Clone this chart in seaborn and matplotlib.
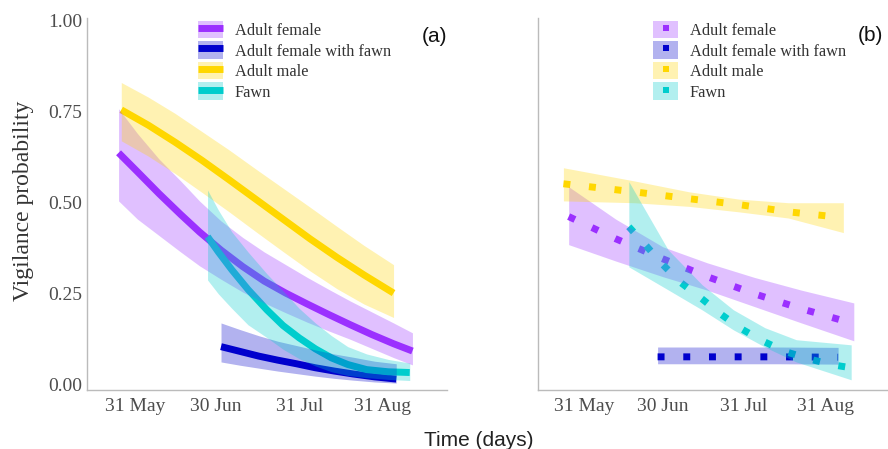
import matplotlib
matplotlib.use("Agg")
import matplotlib.pyplot as plt
import seaborn as sns
from matplotlib.patches import Patch
from matplotlib.lines import Line2D
from matplotlib.legend_handler import HandlerTuple

# ---------------------------
# DATA (day of year)
# ---------------------------
groups = ["Adult female", "Adult female with fawn", "Adult male", "Fawn"]
colors = ["#9B30FF", "#0000CD", "#FFD700", "#00CDCD"]

tick_days = [151, 181, 212, 243]
tick_labels = ["31 May", "30 Jun", "31 Jul", "31 Aug"]
y_ticks = [0.00, 0.25, 0.50, 0.75, 1.00]

# panel (a)
female_a_day = [145, 152, 160, 168, 175, 183, 191, 199, 207, 215, 223, 231, 239, 247, 254]
female_a_fit = [0.637, 0.585, 0.525, 0.468, 0.42, 0.37, 0.325, 0.285, 0.252, 0.222,
                0.193, 0.165, 0.138, 0.113, 0.093]
female_a_lo = [0.505, 0.455, 0.41, 0.365, 0.327, 0.29, 0.255, 0.225, 0.198, 0.172,
               0.148, 0.125, 0.10, 0.075, 0.055]
female_a_hi = [0.758, 0.69, 0.62, 0.56, 0.505, 0.45, 0.405, 0.365, 0.33, 0.295,
               0.262, 0.23, 0.20, 0.17, 0.143]

fawnmum_a_day = [183, 190, 197, 204, 211, 218, 225, 232, 240, 248]
fawnmum_a_fit = [0.105, 0.092, 0.079, 0.068, 0.058, 0.047, 0.038, 0.030, 0.022, 0.016]
fawnmum_a_lo = [0.063, 0.054, 0.046, 0.038, 0.031, 0.024, 0.018, 0.013, 0.008, 0.005]
fawnmum_a_hi = [0.17, 0.152, 0.135, 0.12, 0.108, 0.096, 0.085, 0.076, 0.065, 0.058]

male_a_day = [146, 156, 166, 176, 186, 196, 206, 216, 226, 236, 247]
male_a_fit = [0.755, 0.713, 0.666, 0.616, 0.563, 0.509, 0.455, 0.401, 0.35, 0.302, 0.252]
male_a_lo = [0.67, 0.628, 0.58, 0.528, 0.475, 0.42, 0.366, 0.313, 0.264, 0.222, 0.185]
male_a_hi = [0.83, 0.79, 0.745, 0.695, 0.645, 0.592, 0.54, 0.488, 0.435, 0.383, 0.33]

fawn_a_day = [178, 182, 187, 193, 200, 206, 212, 218, 224, 230, 237, 245, 253]
fawn_a_fit = [0.407, 0.365, 0.316, 0.262, 0.206, 0.163, 0.129, 0.099, 0.074, 0.056,
              0.042, 0.036, 0.034]
fawn_a_lo = [0.288, 0.25, 0.21, 0.165, 0.13, 0.098, 0.072, 0.052, 0.036, 0.026,
             0.02, 0.015, 0.012]
fawn_a_hi = [0.535, 0.48, 0.42, 0.365, 0.305, 0.258, 0.21, 0.17, 0.135, 0.105,
             0.085, 0.07, 0.06]

# panel (b)
female_b_day = [145, 163, 181, 198, 216, 234, 254]
female_b_fit = [0.462, 0.401, 0.346, 0.297, 0.25, 0.209, 0.168]
female_b_lo = [0.385, 0.34, 0.297, 0.26, 0.215, 0.17, 0.121]
female_b_hi = [0.544, 0.455, 0.379, 0.335, 0.295, 0.26, 0.225]

fawnmum_b_day = [179, 202, 225, 248]
fawnmum_b_fit = [0.077, 0.077, 0.077, 0.076]
fawnmum_b_lo = [0.058, 0.058, 0.058, 0.057]
fawnmum_b_hi = [0.104, 0.104, 0.104, 0.103]

male_b_day = [143, 170, 191, 210, 229, 250]
male_b_fit = [0.552, 0.53, 0.511, 0.495, 0.475, 0.459]
male_b_lo = [0.505, 0.50, 0.49, 0.475, 0.458, 0.418]
male_b_hi = [0.596, 0.56, 0.53, 0.51, 0.50, 0.50]

fawn_b_day = [168, 175, 181, 188, 196, 203, 211, 219, 228, 237, 246, 253]
fawn_b_fit = [0.434, 0.379, 0.33, 0.28, 0.236, 0.195, 0.154, 0.121, 0.091, 0.071, 0.055, 0.047]
fawn_b_band_day = [168, 183, 196, 208, 220, 232, 253]
fawn_b_lo = [0.324, 0.261, 0.206, 0.151, 0.104, 0.063, 0.014]
fawn_b_hi = [0.558, 0.371, 0.275, 0.206, 0.157, 0.124, 0.11]

# ---------------------------
# STYLE
# ---------------------------
sns.set_style("white")
plt.rcParams["font.family"] = ["Liberation Serif", "DejaVu Serif"]

fig = plt.figure(figsize=(8.88, 4.49), dpi=100)
ax_a = fig.add_axes([0.098, 0.1314, 0.405, 0.8285])
ax_b = fig.add_axes([0.6059, 0.1314, 0.393, 0.8285])

series_a = [
    (female_a_day, female_a_fit, female_a_day, female_a_lo, female_a_hi),
    (fawnmum_a_day, fawnmum_a_fit, fawnmum_a_day, fawnmum_a_lo, fawnmum_a_hi),
    (male_a_day, male_a_fit, male_a_day, male_a_lo, male_a_hi),
    (fawn_a_day, fawn_a_fit, fawn_a_day, fawn_a_lo, fawn_a_hi),
]
series_b = [
    (female_b_day, female_b_fit, female_b_day, female_b_lo, female_b_hi),
    (fawnmum_b_day, fawnmum_b_fit, fawnmum_b_day, fawnmum_b_lo, fawnmum_b_hi),
    (male_b_day, male_b_fit, male_b_day, male_b_lo, male_b_hi),
    (fawn_b_day, fawn_b_fit, fawn_b_band_day, fawn_b_lo, fawn_b_hi),
]

# lines first, ribbons drawn on top (as in the original)
for (d, fit, bd, lo, hi), c in zip(series_a, colors):
    sns.lineplot(x=d, y=fit, ax=ax_a, color=c, linewidth=5,
                 solid_capstyle="butt", solid_joinstyle="round", zorder=2)
    ax_a.fill_between(bd, lo, hi, color=c, alpha=0.3, lw=0, zorder=3)

for (d, fit, bd, lo, hi), c in zip(series_b, colors):
    sns.lineplot(x=d, y=fit, ax=ax_b, color=c, linewidth=5,
                 linestyle=(0, (1, 2.7)), dash_capstyle="butt", zorder=2)
    ax_b.fill_between(bd, lo, hi, color=c, alpha=0.3, lw=0, zorder=3)

for ax in (ax_a, ax_b):
    ax.set_xlim(133.3, 266.7)
    ax.set_ylim(-0.014, 1.007)
    ax.set_xticks(tick_days)
    ax.set_xticklabels(tick_labels)
    ax.set_yticks(y_ticks)
    ax.set_xlabel("")
    ax.set_ylabel("")
    for s in ["top", "right"]:
        ax.spines[s].set_visible(False)
    for s in ["left", "bottom"]:
        ax.spines[s].set_color("#bbbbbb")
        ax.spines[s].set_linewidth(1)
    ax.tick_params(axis="both", labelsize=14, labelcolor="#4d4d4d",
                   color="#cccccc", length=2, width=0.8, direction="out")
    ax.tick_params(axis="x", pad=4)
    ax.tick_params(axis="y", pad=1.5)

ax_a.set_yticklabels(["0.00", "0.25", "0.50", "0.75", "1.00"])
ax_b.set_yticklabels([])

# legends
handles_a = [(Patch(facecolor=c, alpha=0.3, edgecolor="none"),
              Line2D([], [], color=c, lw=5, solid_capstyle="butt")) for c in colors]
handles_b = [(Patch(facecolor=c, alpha=0.3, edgecolor="none"),
              Line2D([], [], color=c, marker="s", markersize=5, linestyle="none",
                     markeredgewidth=0)) for c in colors]

for ax, hs, x0 in ((ax_a, handles_a, 0.308), (ax_b, handles_b, 0.33)):
    leg = ax.legend(hs, groups, handler_map={tuple: HandlerTuple(ndivide=1, pad=0)},
                    loc="upper left", bbox_to_anchor=(x0, 0.993), frameon=False,
                    fontsize=11.8, handlelength=1.52, handleheight=1.28,
                    labelspacing=0.14, handletextpad=0.72, borderpad=0,
                    borderaxespad=0)
    for t in leg.get_texts():
        t.set_color("#333333")

fig.text(0.489, 0.918, "(a)", fontsize=15, family=["Liberation Sans", "DejaVu Sans"],
         ha="center", va="center", color="#111111")
fig.text(0.98, 0.922, "(b)", fontsize=15, family=["Liberation Sans", "DejaVu Sans"],
         ha="center", va="center", color="#111111")
fig.text(0.027, 0.552, "Vigilance probability", fontsize=17, rotation=90,
         ha="center", va="center", color="#333333")
fig.text(0.539, 0.02, "Time (days)", fontsize=15, family=["Liberation Sans", "DejaVu Sans"],
         ha="center", va="center", color="#222222")

fig.savefig("out.png", dpi=100)
